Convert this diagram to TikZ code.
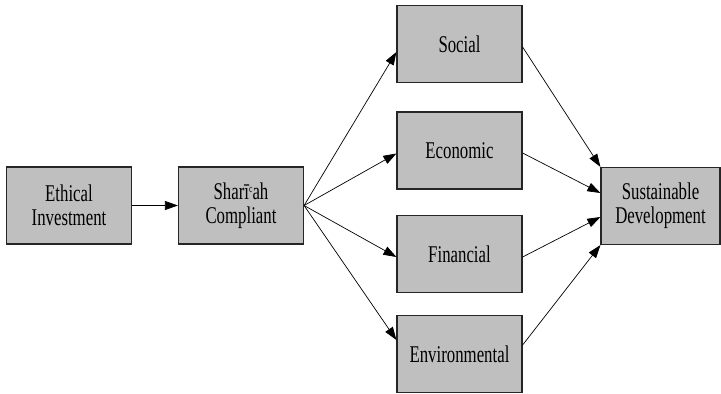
\documentclass[tikz,border=0pt]{standalone}
\usepackage{fontspec}
\setmainfont{Liberation Serif}[FakeStretch=0.7]
\usetikzlibrary{calc,arrows.meta}

\tikzset{
  box/.style={draw=black!85, line width=1.2pt, fill=black!25, minimum width=125pt,
    minimum height=77pt, align=center, inner sep=2pt,
    font=\fontsize{24}{24}\selectfont},
  link/.style={line width=0.7pt, -{Triangle[length=13pt,width=9pt]}}
}

\begin{document}
\begin{tikzpicture}
[x=1pt,y=-1pt]
  \useasboundingbox (0,0) rectangle (721,394);

  % left part
  \node[box] (ethical) at (69,205.5) {Ethical\\Investment};
  \node[box] (shariah) at (241,205.5) {Shar\={\i}\raisebox{.6ex}{\fontsize{11}{11}\selectfont c}ah\\Compliant};

  % the four dimensions
  \node[box] (social) at (459.5,44) {Social};
  \node[box] (economic) at (459.5,150.5) {Economic};
  \node[box] (financial) at (459.5,254) {Financial};
  \node[box] (environ) at (459.5,354) {Environmental};

  % goal
  \node[box, minimum width=119pt] (sustain) at (660.5,206) {Sustainable\\Development};

  \draw[link] (ethical) -- (shariah);

  \draw[link] (shariah.east) -- ($(social.west)+(0,8)$);
  \draw[link] (shariah.east) -- ($(economic.west)+(0,3)$);
  \draw[link] (shariah.east) -- ($(financial.west)+(0,3)$);
  \draw[link] (shariah.east) -- ($(environ.west)+(0,-14)$);

  \draw[link] ($(social.east)+(0,3)$) -- (sustain.north west);
  \draw[link] ($(economic.east)+(0,2.5)$) -- ($(sustain.west)+(0,-13)$);
  \draw[link] ($(financial.east)+(0,3)$) -- ($(sustain.west)+(0,11)$);
  \draw[link] ($(environ.east)+(0,-9)$) -- (sustain.south west);
\end{tikzpicture}
\end{document}
